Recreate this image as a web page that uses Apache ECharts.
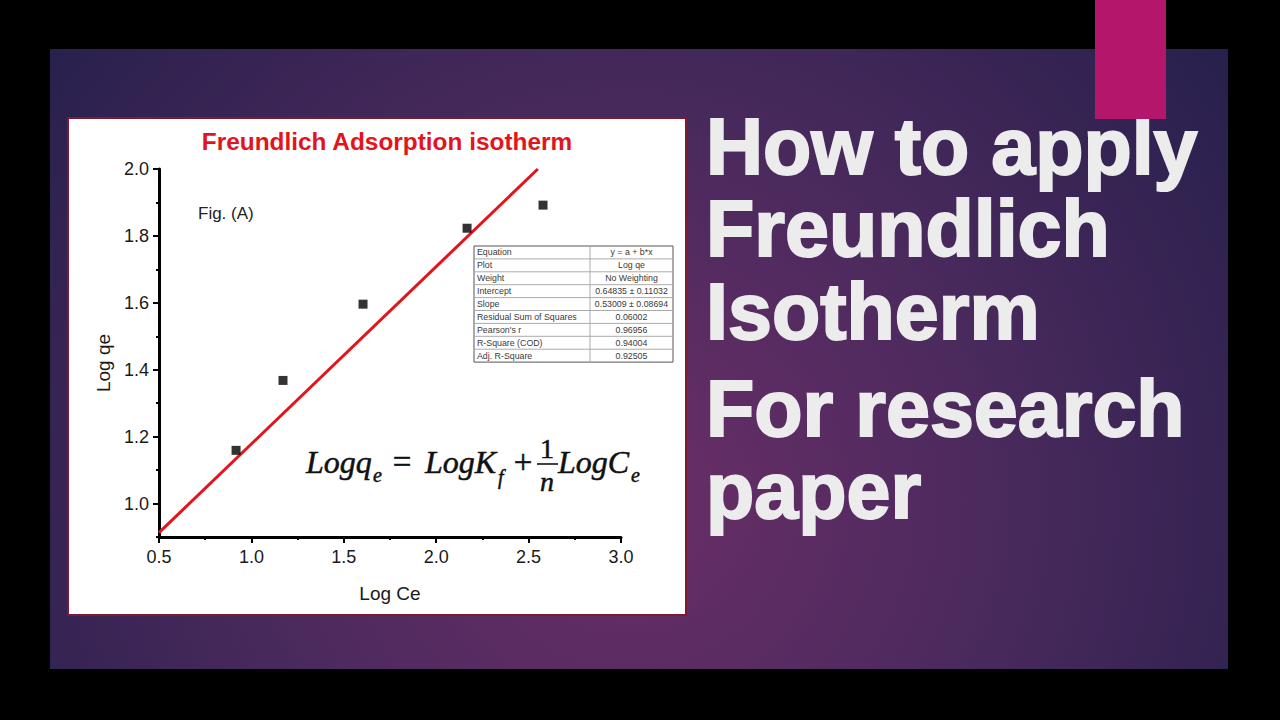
<!DOCTYPE html>
<html><head><meta charset="utf-8">
<script src="https://cdn.jsdelivr.net/npm/echarts@6/dist/echarts.min.js"></script>
<style>html,body{margin:0;padding:0;background:#000;overflow:hidden}#c{width:1280px;height:720px}</style>
</head><body><div id="c"></div>
<script>
// ---- data ----
const logCe = [0.917, 1.171, 1.604, 2.167, 2.578];
const logQe = [1.159, 1.368, 1.596, 1.823, 1.892];
const fitX = [0.5, 2.55];
const fitY = [0.913, 2.0];
const xTicks = [0.5, 1.0, 1.5, 2.0, 2.5, 3.0];
const yMajor = [1.0, 1.2, 1.4, 1.6, 1.8, 2.0];
const yMinor = [0.9, 1.1, 1.3, 1.5, 1.7, 1.9];
const chartTitle = 'Freundlich Adsorption isotherm';
const xName = 'Log Ce';
const yName = 'Log qe';
const figLabel = 'Fig. (A)';
const tableLabels = ['Equation', 'Plot', 'Weight', 'Intercept', 'Slope', 'Residual Sum of Squares', "Pearson's r", 'R-Square (COD)', 'Adj. R-Square'];
const tableValues = ['y = a + b*x', 'Log qe', 'No Weighting', '0.64835 \u00b1 0.11032', '0.53009 \u00b1 0.08694', '0.06002', '0.96956', '0.94004', '0.92505'];
const headline = ['How to apply', 'Freundlich', 'Isotherm', 'For research', 'paper'];

// ---- layout ----
const headY = [146, 228, 311, 408, 490];
const SANS = '"Liberation Sans", Arial, sans-serif';
const SERIF = '"Liberation Serif", "Times New Roman", serif';

const chart = echarts.init(document.getElementById('c'), null, {renderer: 'svg', width: 1280, height: 720});

const g = [];
// page background
g.push({type: 'rect', z: -100, shape: {x: 0, y: 0, width: 1280, height: 720}, style: {fill: '#000'}});
g.push({type: 'rect', z: -99, shape: {x: 50, y: 49, width: 1178, height: 620},
  style: {fill: {type: 'radial', x: 630, y: 500, r: 780, global: true,
    colorStops: [{offset: 0, color: '#6a2e67'}, {offset: 0.45, color: '#4c2a5e'}, {offset: 1, color: '#241f4b'}]}}});
// white chart panel
g.push({type: 'rect', z: -98, shape: {x: 68, y: 118, width: 618, height: 497}, style: {fill: '#ffffff', stroke: '#7d1a30', lineWidth: 2}});
// magenta accent
g.push({type: 'rect', z: 120, shape: {x: 1095, y: 0, width: 71, height: 119}, style: {fill: '#b3166b'}});

// headline text
headline.forEach((t, i) => {
  g.push({type: 'text', z: 110, x: 706, y: headY[i], style: {text: t, fill: '#ececec', stroke: '#ececec', lineWidth: 2, fontFamily: SANS, fontWeight: 'bold', fontSize: 79, align: 'left', verticalAlign: 'middle'}});
});

// chart title
g.push({type: 'text', z: 50, x: 387, y: 141, style: {text: chartTitle, fill: '#e3141b', fontFamily: SANS, fontWeight: 'bold', fontSize: 24.4, align: 'center', verticalAlign: 'middle'}});
// fig label
g.push({type: 'text', z: 50, x: 198, y: 213, style: {text: figLabel, fill: '#222', fontFamily: SANS, fontSize: 17, align: 'left', verticalAlign: 'middle'}});

// table
const tx0 = 474, tx1 = 590, tx2 = 673, ty0 = 246, rh = 12.9;
const th = rh * tableLabels.length;
g.push({type: 'rect', z: 40, shape: {x: tx0, y: ty0, width: tx2 - tx0, height: th}, style: {fill: '#fff', stroke: '#555', lineWidth: 1}});
for (let i = 1; i < tableLabels.length; i++) {
  g.push({type: 'line', z: 41, shape: {x1: tx0, y1: ty0 + i * rh, x2: tx2, y2: ty0 + i * rh}, style: {stroke: '#aaa', lineWidth: 1}});
}
g.push({type: 'line', z: 41, shape: {x1: tx1, y1: ty0, x2: tx1, y2: ty0 + th}, style: {stroke: '#aaa', lineWidth: 1}});
tableLabels.forEach((t, i) => {
  g.push({type: 'text', z: 42, x: tx0 + 3, y: ty0 + (i + 0.5) * rh, style: {text: t, fill: '#3a3a3a', fontFamily: SANS, fontSize: 8.8, align: 'left', verticalAlign: 'middle'}});
  g.push({type: 'text', z: 42, x: (tx1 + tx2) / 2, y: ty0 + (i + 0.5) * rh, style: {text: tableValues[i], fill: '#3a3a3a', fontFamily: SANS, fontSize: 8.8, align: 'center', verticalAlign: 'middle'}});
});

// equation
function eq(t, x, y, size, italic, align) {
  g.push({type: 'text', z: 50, x: x, y: y, style: {text: t, fill: '#111', stroke: '#111', lineWidth: 0.5, fontFamily: SERIF, fontStyle: italic ? 'italic' : 'normal', fontSize: size, align: align || 'left', verticalAlign: 'middle'}});
}
eq('Logq', 306, 462, 32, true);
eq('e', 373, 475, 20, true);
eq('=', 402, 462, 33, false, 'center');
eq('LogK', 425, 462, 32, true);
eq('f', 498, 477, 20, true);
eq('+', 523, 462, 33, false, 'center');
eq('1', 547, 448, 28, false, 'center');
g.push({type: 'line', z: 50, shape: {x1: 537, y1: 464, x2: 558, y2: 464}, style: {stroke: '#111', lineWidth: 1.6}});
eq('n', 547, 481, 28, true, 'center');
eq('LogC', 558, 462, 32, true);
eq('e', 631, 475, 20, true);

const axisLabelStyle = {color: '#1a1a1a', fontFamily: SANS, fontSize: 18};

chart.setOption({
  animation: false,
  backgroundColor: '#000',
  grid: {left: 159, right: 659, top: 169, bottom: 183, containLabel: false},
  xAxis: {
    type: 'value', min: 0.5, max: 3.0, interval: 0.5,
    name: xName, nameLocation: 'middle', nameGap: 47,
    nameTextStyle: {color: '#1a1a1a', fontFamily: SANS, fontSize: 19},
    axisLine: {show: true, onZero: false, lineStyle: {color: '#000', width: 3}},
    axisTick: {show: true, length: 6, lineStyle: {color: '#000', width: 2}},
    minorTick: {show: true, splitNumber: 2, length: 3, lineStyle: {color: '#000', width: 2}},
    axisLabel: {margin: 11, formatter: v => v.toFixed(1), ...axisLabelStyle},
    splitLine: {show: false}
  },
  yAxis: [{
    type: 'value', min: 0.9, max: 2.0,
    name: yName, nameLocation: 'middle', nameGap: 46, nameRotate: 90,
    nameTextStyle: {color: '#1a1a1a', fontFamily: SANS, fontSize: 19, padding: [0, 20, 0, 0]},
    axisLine: {show: true, onZero: false, lineStyle: {color: '#000', width: 3}},
    axisTick: {show: true, length: 6, customValues: yMajor, lineStyle: {color: '#000', width: 2}},
    axisLabel: {margin: 10, customValues: yMajor, formatter: v => v.toFixed(1), ...axisLabelStyle},
    splitLine: {show: false}
  }, {
    type: 'value', min: 0.9, max: 2.0, position: 'left',
    axisLine: {show: false},
    axisTick: {show: true, length: 3, customValues: yMinor, lineStyle: {color: '#000', width: 2}},
    axisLabel: {show: false},
    splitLine: {show: false}
  }],
  series: [{
    type: 'line', name: 'fit', xAxisIndex: 0, yAxisIndex: 0,
    data: fitX.map((x, i) => [x, fitY[i]]),
    symbol: 'none', lineStyle: {color: '#e3141b', width: 3}, z: 3
  }, {
    type: 'scatter', name: 'data', xAxisIndex: 0, yAxisIndex: 0,
    data: logCe.map((x, i) => [x, logQe[i]]),
    symbol: 'rect', symbolSize: 9, itemStyle: {color: '#000'}, z: 4
  }],
  graphic: {elements: g}
});
</script></body></html>
